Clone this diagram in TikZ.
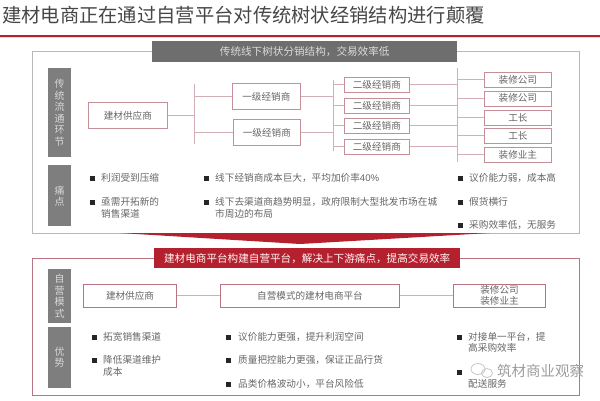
\documentclass[tikz,border=0pt]{standalone}
\usepackage{fontspec}
\setmainfont{Noto Sans CJK SC}
\usetikzlibrary{calc}
\definecolor{hdgray}{HTML}{6E6E6E}
\definecolor{lblgray}{HTML}{7E7E7E}
\definecolor{pinkline}{HTML}{D2AEB5}
\definecolor{boxline}{HTML}{C48F98}
\definecolor{darkred}{HTML}{B5202E}
\definecolor{txtgray}{HTML}{666666}
\definecolor{framered}{HTML}{B87482}
\newcommand{\fsz}[1]{\fontsize{#1}{#1}\selectfont}
\tikzset{
 tbox/.style={draw=boxline,line width=0.7pt,fill=white,inner sep=0pt,text=txtgray,font=\fsz{9.6},align=center,anchor=north west},
 rbox/.style={tbox,draw=framered,line width=1pt},
 lbl/.style={fill=lblgray,inner sep=0pt,text=white!70!lblgray,font=\fsz{10},align=center,anchor=north west,minimum width=23pt},
 conn/.style={draw=pinkline,line width=0.8pt},
 body/.style={text=txtgray,font=\fsz{9.65},anchor=west,inner sep=0pt},
 bul/.style={fill=black!85,inner sep=0pt,minimum size=5pt,anchor=center},
}
\begin{document}
\begin{tikzpicture}[x=1pt,y=-1pt]
\useasboundingbox (0,0) rectangle (600,400);
\fill[white] (0,0) rectangle (600,400);
% title
\node[anchor=west,inner sep=0pt,text=black!72,font=\fsz{19.3}] (title) at (2,15) {建材电商正在通过自营平台对传统树状经销结构进行颠覆};
\coordinate (rl) at (0,36); \coordinate (rr) at (600,36);
\draw[pink!70,line width=1pt] ($(rl)+(0,1.5)$) -- ($(rr)+(0,1.5)$);
\draw[darkred,line width=1.3pt] (rl) -- (rr);
% frames
\node[draw=black!28,line width=0.9pt,anchor=north west,inner sep=0pt,minimum width=547pt,minimum height=182pt] (frameA) at (32,51) {};
\fill[darkred] (120,233) -- (490,233) -- (300,244) -- cycle;
\node[draw=framered,line width=1pt,anchor=north west,inner sep=0pt,minimum width=547pt,minimum height=137pt] (frameB) at (32,258) {};
% headers
\node[fill=hdgray,anchor=north west,inner sep=0pt,minimum width=305pt,minimum height=21pt,text=white!75!hdgray,font=\fsz{10.6}] (hdA) at (152,41) {传统线下树状分销结构，交易效率低};
\node[fill=darkred,anchor=north west,inner sep=0pt,minimum width=306pt,minimum height=20pt,text=white!85!pink,font=\fsz{10.6}] (hdB) at (154,248) {建材电商平台构建自营平台，解决上下游痛点，提高交易效率};
% side labels
\node[lbl,minimum height=89pt] (l1) at (48,68) {传\\[1.6pt]统\\[1.6pt]流\\[1.6pt]通\\[1.6pt]环\\[1.6pt]节};
\node[lbl,minimum height=61pt] (l2) at (48,165) {痛\\[1pt]点};
\node[lbl,minimum height=54pt] (l3) at (48,269) {自\\[1.5pt]营\\[1.5pt]模\\[1.5pt]式};
\node[lbl,minimum height=61pt] (l4) at (48,327) {优\\[1pt]势};
% tree boxes
\node[tbox,minimum width=79pt,minimum height=26pt] (sup) at (88,102) {建材供应商};
\node[tbox,minimum width=68pt,minimum height=26pt] (a1) at (232,83) {一级经销商};
\node[tbox,minimum width=67pt,minimum height=26pt] (a2) at (233,119) {一级经销商};
\node[tbox,minimum width=65pt,minimum height=15pt] (b1) at (344,77) {二级经销商};
\node[tbox,minimum width=65pt,minimum height=15pt] (b2) at (344,97.5) {二级经销商};
\node[tbox,minimum width=65pt,minimum height=15pt] (b3) at (344,117.5) {二级经销商};
\node[tbox,minimum width=65pt,minimum height=15pt] (b4) at (344,138.5) {二级经销商};
\node[tbox,minimum width=67pt,minimum height=15pt] (c1) at (484,72) {装修公司};
\node[tbox,minimum width=67pt,minimum height=15pt] (c2) at (484,90.5) {装修公司};
\node[tbox,minimum width=67pt,minimum height=15pt] (c3) at (484,109.5) {工长};
\node[tbox,minimum width=67pt,minimum height=15pt] (c4) at (484,128) {工长};
\node[tbox,minimum width=67pt,minimum height=15pt] (c5) at (484,147) {装修业主};
% tree connectors
\coordinate (v1t) at (194,84); \coordinate (v1b) at (194,144);
\coordinate (v2t) at (333,80); \coordinate (v2b) at (333,151);
\coordinate (v3t) at (457,68); \coordinate (v3b) at (457,162);
\draw[conn] (v1t) -- (v1b); \draw[conn] (v2t) -- (v2b); \draw[conn] (v3t) -- (v3b);
\draw[conn] (sup.east) -- (sup.east -| v1t);
\foreach \n in {a1,a2} {
  \draw[conn] (\n.west) -- (\n.west -| v1t);
  \draw[conn] (\n.east) -- (\n.east -| v2t);
}
\foreach \n in {b1,b2,b3,b4} {
  \draw[conn] (\n.west) -- (\n.west -| v2t);
  \draw[conn] (\n.east) -- (\n.east -| v3t);
}
\foreach \n in {c1,c2,c3,c4,c5} \draw[conn] (\n.west) -- (\n.west -| v3t);
% lower row
\node[rbox,minimum width=93pt,minimum height=23pt] (s1) at (83,283.5) {建材供应商};
\node[rbox,minimum width=179pt,minimum height=23pt] (s2) at (220,283.5) {自营模式的建材电商平台};
\node[rbox,minimum width=92pt,minimum height=23pt] (s3) at (453,283.5) {装修公司\\[1pt]装修业主};
\draw[conn] (s1) -- (s2); \draw[conn] (s2) -- (s3);
% bullets
\foreach \x/\y [count=\i] in {92/178,92/202,206/178,206/202,460/178,460/202,460/225,94/337,94/360,228/337,228/360,228/384,459/337,459/372}
  \node[bul] (bl\i) at (\x,\y) {};
\node[body] (p1) at (101,178) {利润受到压缩};
\node[body] (p2) at (101,202) {亟需开拓新的};
\node[body] (p3) at (101,214) {销售渠道};
\node[body] (p4) at (215,178) {线下经销商成本巨大，平均加价率{\fontspec{Liberation Sans}40\%}};
\node[body] (p5) at (215,202) {线下去渠道商趋势明显，政府限制大型批发市场在城};
\node[body] (p6) at (215,214) {市周边的布局};
\node[body] (p7) at (469,178) {议价能力弱，成本高};
\node[body] (p8) at (469,202) {假货横行};
\node[body] (p9) at (469,225) {采购效率低，无服务};
% advantages
\node[body] (q1) at (103,337) {拓宽销售渠道};
\node[body] (q2) at (103,360) {降低渠道维护};
\node[body] (q3) at (103,372) {成本};
\node[body] (q4) at (238,337) {议价能力更强，提升利润空间};
\node[body] (q5) at (238,360) {质量把控能力更强，保证正品行货};
\node[body] (q6) at (238,384) {品类价格波动小，平台风险低};
\node[body] (q7) at (468,337) {对接单一平台，提};
\node[body] (q8) at (468,348) {高采购效率};
\node[body] (q9) at (468,384) {配送服务};
% watermark
\draw[black!22,line width=0.8pt] (478,369) ellipse [x radius=7,y radius=5.5];
\draw[black!22,line width=0.8pt] (487,373) ellipse [x radius=5.5,y radius=4.5];
\node[anchor=west,inner sep=0pt,text=black!38,font=\fsz{14.5}] (wm) at (497,371) {筑材商业观察};
\end{tikzpicture}
\end{document}
